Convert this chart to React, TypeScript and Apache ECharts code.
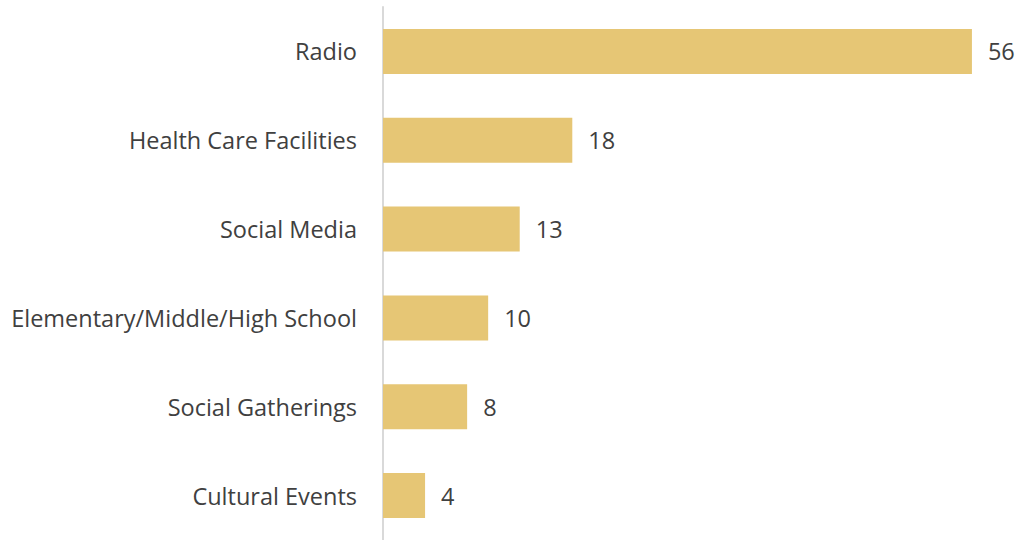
import React, { useEffect, useRef } from "react";
import * as echarts from "echarts";

const categories = [
  "Radio",
  "Health Care Facilities",
  "Social Media",
  "Elementary/Middle/High School",
  "Social Gatherings",
  "Cultural Events",
];
const values = [56, 18, 13, 10, 8, 4];

export default function App() {
  const ref = useRef<HTMLDivElement>(null);
  useEffect(() => {
    if (!ref.current) return;
    const chart = echarts.init(ref.current, null, { renderer: "svg" });
    chart.setOption({
      animation: false,
      backgroundColor: "#ffffff",
      grid: { left: 383, top: 7, width: 631, height: 535 },
      xAxis: {
        type: "value",
        min: 0,
        max: 60,
        show: false,
      },
      yAxis: {
        type: "category",
        data: categories,
        inverse: true,
        axisLine: { show: true, lineStyle: { color: "#d9d9d9", width: 2 } },
        axisTick: { show: false },
        axisLabel: {
          color: "#404040",
          fontFamily: "Open Sans",
          fontSize: 23.5,
          margin: 26,
        },
      },
      series: [
        {
          type: "bar",
          data: values,
          barWidth: 45,
          itemStyle: { color: "#E6C675" },
          label: {
            show: true,
            position: "right",
            distance: 16,
            color: "#404040",
            fontFamily: "Open Sans",
            fontSize: 23.5,
          },
        },
      ],
    });
    return () => chart.dispose();
  }, []);
  return (
    <div
      ref={ref}
      style={{ position: "fixed", left: 0, top: 0, width: 1027, height: 540 }}
    />
  );
}
